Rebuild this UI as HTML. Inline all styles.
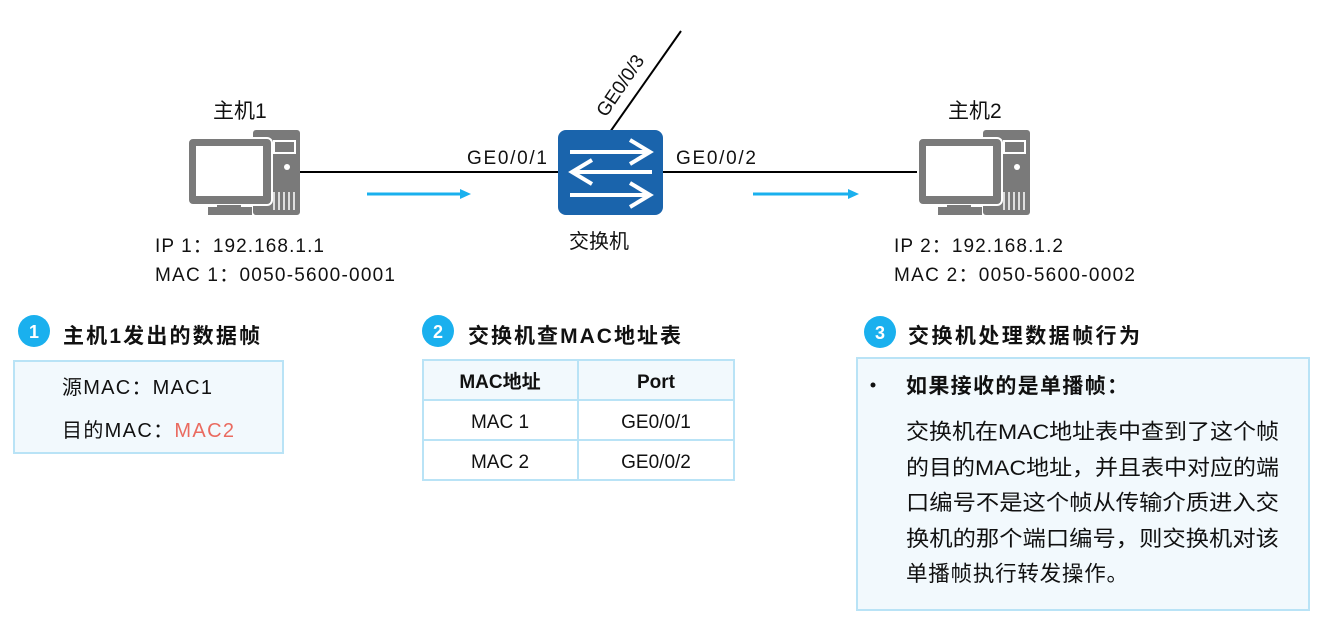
<!DOCTYPE html>
<html><head><meta charset="utf-8"><style>
body{margin:0;background:#fff;}
svg text{font-family:"Liberation Sans","Noto Sans CJK SC",sans-serif;fill:#111;}
</style></head><body>
<svg width="1320" height="613" viewBox="0 0 1320 613" xmlns="http://www.w3.org/2000/svg">
<defs>
<g id="pc">
 <rect x="66" y="0" width="47" height="85" rx="3" fill="#7a7a7a"/>
 <rect x="86" y="10" width="23" height="14" fill="#fff"/>
 <rect x="88" y="12" width="19" height="10" fill="#7a7a7a"/>
 <circle cx="100" cy="37" r="3" fill="#fff"/>
 <g stroke="#fff" stroke-width="1.5"><line x1="87" y1="62" x2="87" y2="80"/><line x1="92" y1="62" x2="92" y2="80"/><line x1="97" y1="62" x2="97" y2="80"/><line x1="102" y1="62" x2="102" y2="80"/><line x1="107" y1="62" x2="107" y2="80"/></g>
 <rect x="1" y="8" width="84" height="67" rx="5" fill="#7a7a7a" stroke="#fff" stroke-width="2"/>
 <rect x="9" y="16" width="67" height="50" fill="#fff"/>
 <rect x="30" y="75" width="24" height="6" fill="#7a7a7a"/>
 <rect x="21" y="77" width="44" height="8" fill="#7a7a7a"/>
</g>
</defs>
<line x1="300" y1="172" x2="560" y2="172" stroke="#000" stroke-width="2"/>
<line x1="660" y1="172" x2="920" y2="172" stroke="#000" stroke-width="2"/>
<line x1="610" y1="132" x2="681" y2="31" stroke="#000" stroke-width="2"/>
<line x1="367" y1="194" x2="462" y2="194" stroke="#1ab0ee" stroke-width="3"/>
<polygon points="460,189 471,194 460,199" fill="#1ab0ee"/>
<line x1="753" y1="194" x2="850" y2="194" stroke="#1ab0ee" stroke-width="3"/>
<polygon points="848,189 859,194 848,199" fill="#1ab0ee"/>
<g transform="translate(187,130)"><use href="#pc"/></g>
<g transform="translate(917,130)"><use href="#pc"/></g>
<rect x="558" y="130" width="105" height="85" rx="8" fill="#1a64ac"/>
<g stroke="#fff" stroke-width="4" fill="none">
 <line x1="570" y1="152" x2="650" y2="152"/><polyline points="630,140 650,152 630,164"/>
 <line x1="572" y1="172" x2="652" y2="172"/><polyline points="592,160 572,172 592,184"/>
 <line x1="570" y1="195" x2="650" y2="195"/><polyline points="630,183 650,195 630,207"/>
</g>
<text x="213" y="118" font-size="21">主机1</text>
<text x="948" y="118" font-size="21">主机2</text>
<text x="467" y="164" font-size="19" textLength="80">GE0/0/1</text>
<text x="676" y="164" font-size="19" textLength="80">GE0/0/2</text>
<text x="0" y="0" font-size="19" transform="translate(606,118) rotate(-56)">GE0/0/3</text>
<text x="569" y="248" font-size="20">交换机</text>
<text x="155" y="252" font-size="19" textLength="169">IP 1：192.168.1.1</text>
<text x="155" y="281" font-size="19" textLength="240">MAC 1：0050-5600-0001</text>
<text x="894" y="252" font-size="19" textLength="169">IP 2：192.168.1.2</text>
<text x="894" y="281" font-size="19" textLength="241">MAC 2：0050-5600-0002</text>
<circle cx="34" cy="331" r="16" fill="#1ab0ee"/>
<text x="34" y="338" font-size="18" font-weight="bold" text-anchor="middle" style="fill:#fff">1</text>
<text x="63" y="343" font-size="21" font-weight="bold" textLength="197">主机1发出的数据帧</text>
<rect x="14" y="361" width="269" height="92" fill="#f2f9fd" stroke="#b9e3f6" stroke-width="2"/>
<text x="62" y="394" font-size="20" textLength="150">源MAC：MAC1</text>
<text x="62" y="437" font-size="20" textLength="172">目的MAC：<tspan style="fill:#ea6b60">MAC2</tspan></text>
<circle cx="438" cy="331" r="16" fill="#1ab0ee"/>
<text x="438" y="338" font-size="18" font-weight="bold" text-anchor="middle" style="fill:#fff">2</text>
<text x="468" y="343" font-size="21" font-weight="bold" textLength="213">交换机查MAC地址表</text>
<rect x="423" y="360" width="311" height="120" fill="#fff" stroke="#b9e3f6" stroke-width="2"/>
<rect x="424" y="361" width="309" height="39" fill="#f2f9fd"/>
<g stroke="#b9e3f6" stroke-width="2"><line x1="423" y1="400" x2="734" y2="400"/><line x1="423" y1="440" x2="734" y2="440"/><line x1="578" y1="360" x2="578" y2="480"/></g>
<text x="500" y="388" font-size="19" font-weight="bold" text-anchor="middle">MAC地址</text>
<text x="656" y="388" font-size="19" font-weight="bold" text-anchor="middle">Port</text>
<text x="500" y="428" font-size="19" text-anchor="middle">MAC 1</text>
<text x="656" y="428" font-size="19" text-anchor="middle">GE0/0/1</text>
<text x="500" y="468" font-size="19" text-anchor="middle">MAC 2</text>
<text x="656" y="468" font-size="19" text-anchor="middle">GE0/0/2</text>
<circle cx="880" cy="332" r="16" fill="#1ab0ee"/>
<text x="880" y="339" font-size="18" font-weight="bold" text-anchor="middle" style="fill:#fff">3</text>
<text x="908" y="343" font-size="21" font-weight="bold" textLength="232">交换机处理数据帧行为</text>
<rect x="857" y="358" width="452" height="252" fill="#f2f9fd" stroke="#b9e3f6" stroke-width="2"/>
<circle cx="873" cy="385" r="2.5" fill="#111"/>
<text x="906" y="393" font-size="21" font-weight="bold" textLength="222">如果接收的是单播帧：</text>
<g font-size="21.5">
<text x="906" y="439" textLength="373" lengthAdjust="spacingAndGlyphs">交换机在MAC地址表中查到了这个帧</text>
<text x="906" y="475" textLength="373" lengthAdjust="spacingAndGlyphs">的目的MAC地址，并且表中对应的端</text>
<text x="906" y="510" textLength="373" lengthAdjust="spacingAndGlyphs">口编号不是这个帧从传输介质进入交</text>
<text x="906" y="546" textLength="373" lengthAdjust="spacingAndGlyphs">换机的那个端口编号，则交换机对该</text>
<text x="906" y="581" textLength="222">单播帧执行转发操作。</text>
</g>
</svg>
</body></html>
